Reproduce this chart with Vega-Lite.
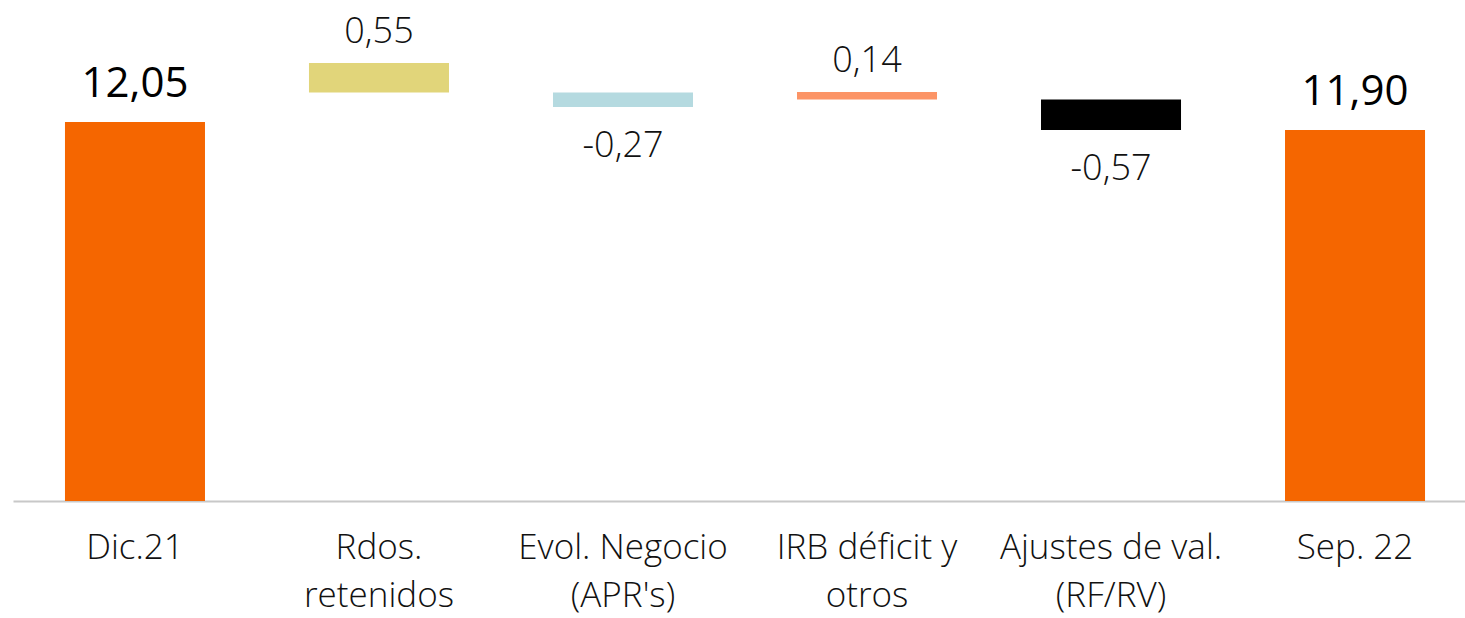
{
  "$schema": "https://vega.github.io/schema/vega-lite/v6.json",
  "autosize": {"type": "none"},
  "padding": {"left": 13, "top": 0, "right": 0, "bottom": 117},
  "width": 1464,
  "height": 501,
  "background": "#ffffff",
  "config": {"view": {"stroke": null}, "font": "Open Sans"},
  "data": {
    "values": [
      {"cat": "Dic.21", "lo": 0, "hi": 12.05, "label": "12,05", "kind": "total", "grp": "total"},
      {"cat": "Rdos.|retenidos", "lo": 12.60, "hi": 13.15, "label": "0,55", "kind": "pos", "grp": "rdos"},
      {"cat": "Evol. Negocio|(APR's)", "lo": 12.33, "hi": 12.60, "label": "-0,27", "kind": "neg", "grp": "evol"},
      {"cat": "IRB déficit y|otros", "lo": 12.47, "hi": 12.61, "label": "0,14", "kind": "pos", "grp": "irb"},
      {"cat": "Ajustes de val.|(RF/RV)", "lo": 11.90, "hi": 12.47, "label": "-0,57", "kind": "neg", "grp": "ajustes"},
      {"cat": "Sep. 22", "lo": 0, "hi": 11.90, "label": "11,90", "kind": "total", "grp": "total"}
    ]
  },
  "encoding": {
    "x": {
      "field": "cat", "type": "nominal", "sort": null,
      "scale": {"paddingInner": 0.4262, "paddingOuter": 0.213},
      "axis": {
        "title": null, "labelAngle": 0, "ticks": false,
        "domainColor": "#c8c8c8", "domainWidth": 2,
        "labelFont": "Open Sans", "labelFontSize": 35, "labelFontWeight": 300, "labelColor": "#111111",
        "labelPadding": 29, "labelLineHeight": 48, "labelLimit": 0,
        "labelExpr": "split(datum.label, '|')"
      }
    }
  },
  "layer": [
    {
      "mark": {"type": "bar"},
      "encoding": {
        "y": {"field": "lo", "type": "quantitative",
              "scale": {"domain": [5, 14.32], "nice": false, "zero": false, "clamp": true},
              "axis": null},
        "y2": {"field": "hi"},
        "color": {
          "field": "grp", "type": "nominal", "legend": null,
          "scale": {"domain": ["total", "rdos", "evol", "irb", "ajustes"],
                    "range": ["#f56600", "#e1d57a", "#b5dae0", "#fc9466", "#000000"]}
        }
      }
    },
    {
      "transform": [{"filter": "datum.kind == 'pos'"}],
      "mark": {"type": "text", "baseline": "alphabetic", "dy": -20, "fontSize": 36, "fontWeight": 300, "font": "Open Sans", "color": "#111111"},
      "encoding": {"y": {"field": "hi", "type": "quantitative"}, "text": {"field": "label"}}
    },
    {
      "transform": [{"filter": "datum.kind == 'neg'"}],
      "mark": {"type": "text", "baseline": "alphabetic", "dy": 50, "fontSize": 36, "fontWeight": 300, "font": "Open Sans", "color": "#111111"},
      "encoding": {"y": {"field": "lo", "type": "quantitative"}, "text": {"field": "label"}}
    },
    {
      "transform": [{"filter": "datum.kind == 'total'"}],
      "mark": {"type": "text", "baseline": "alphabetic", "dy": -25, "fontSize": 42, "fontWeight": 400, "font": "Open Sans", "color": "#000000"},
      "encoding": {"y": {"field": "hi", "type": "quantitative"}, "text": {"field": "label"}}
    }
  ]
}
